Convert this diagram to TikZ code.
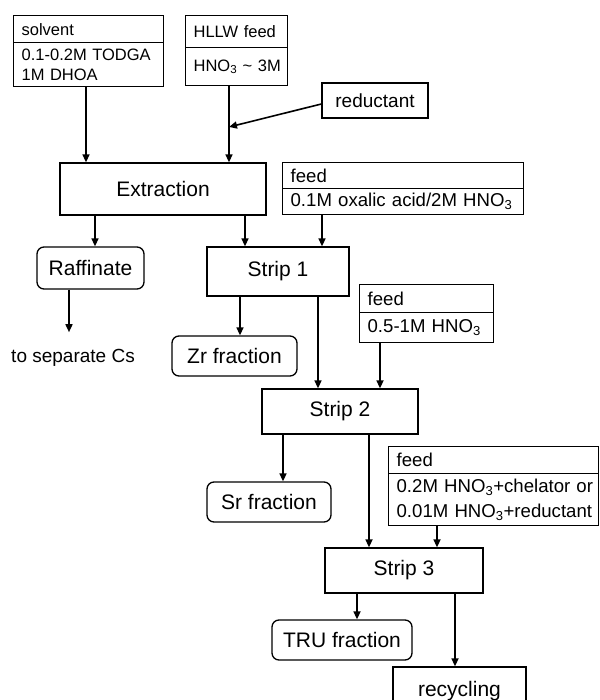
\documentclass[tikz,border=0pt]{standalone}
\usepackage{fontspec}
\setmainfont{Liberation Sans}
\usetikzlibrary{arrows.meta}
\tikzstyle{unit}=[draw, line width=1.3pt, inner sep=0pt, font=\fontsize{21}{25}\selectfont]
\tikzstyle{fraction}=[unit, rounded corners=7pt]
\tikzstyle{feedbox}=[draw, line width=1.3pt, anchor=north west, inner xsep=8pt, inner ysep=0pt, align=left, font=\fontsize{18.6}{25}\selectfont]
\tikzstyle{inbox}=[feedbox, font=\fontsize{16.5}{20}\selectfont]
\tikzstyle{flow}=[line width=1.6pt, -{Triangle[length=8pt,width=7pt]}]

\begin{document}
\begin{tikzpicture}[x=1pt,y=-1pt]
	\useasboundingbox (0,0) rectangle (599,700);
	\clip (0,0) rectangle (599,700);
	\node[inbox, text width=134, minimum height=27] (solventhead) at (13,15) {solvent};
	\node[inbox, text width=134, minimum height=44] (solvent) at (13,42) {\mbox{0.1-0.2M TODGA}\\\mbox{1M DHOA}};
	\node[inbox, text width=86, minimum height=32] (hllwhead) at (185,15) {\mbox{HLLW feed}};
	\node[inbox, text width=86, minimum height=38] (hllw) at (185,47) {\mbox{HNO\textsubscript{3} \textasciitilde\ 3M}};
	\node[unit, font=\fontsize{19}{23}\selectfont, minimum width=106, minimum height=35] (reductant) at (375,100.5) {reductant};
	\node[unit, minimum width=206, minimum height=52] (extraction) at (163,189) {Extraction};
	\node[feedbox, text width=225, minimum height=26] (feedAhead) at (282,162) {feed};
	\node[feedbox, text width=225, minimum height=26] (feedA) at (282,188) {\mbox{0.1M oxalic acid/2M HNO\textsubscript{3}}};
	\node[fraction, minimum width=107, minimum height=42] (raffinate) at (90.5,268) {Raffinate};
	\node[unit, minimum width=142, minimum height=49] (strip1) at (278,271.5) {Strip 1};
	\node[font=\fontsize{19}{23}\selectfont, inner xsep=0pt, inner ysep=17pt] (tocs) at (73,358) {to separate Cs};
	\node[fraction, minimum width=125, minimum height=40] (zr) at (234.5,356) {Zr fraction};
	\node[feedbox, text width=118, minimum height=28] (feedBhead) at (359,284) {feed};
	\node[feedbox, text width=118, minimum height=30] (feedB) at (359,312) {\mbox{0.5-1M HNO\textsubscript{3}}};
	\node[unit, minimum width=156, minimum height=45] (strip2) at (340,411.5) {Strip 2};
	\node[fraction, minimum width=124, minimum height=40] (sr) at (269,502) {Sr fraction};
	\node[feedbox, text width=194, minimum height=27] (feedChead) at (388,446) {feed};
	\node[feedbox, text width=194, minimum height=52] (feedC) at (388,473) {\mbox{0.2M HNO\textsubscript{3}+chelator or}\\\mbox{0.01M HNO\textsubscript{3}+reductant}};
	\node[unit, minimum width=158, minimum height=45] (strip3) at (404,570.5) {Strip 3};
	\node[fraction, minimum width=140, minimum height=40] (tru) at (342,640) {TRU fraction};
	\node[unit, minimum width=133, minimum height=48] (recycling) at (459.5,691) {recycling};
	\coordinate (mix) at (229,127);
	\draw[flow] (solvent.south -| 86,0) -- (extraction.north -| 86,0);
	\draw[flow] (hllw.south -| 229,0) -- (extraction.north -| 229,0);
	\draw[flow] ([yshift=-3.5pt]reductant.west) -- (mix);
	\draw[flow] (extraction.south -| 95,0) -- (raffinate.north -| 95,0);
	\draw[flow] (extraction.south -| 245,0) -- (strip1.north -| 245,0);
	\draw[flow] (feedA.south -| 322,0) -- (strip1.north -| 322,0);
	\draw[flow] (raffinate.south -| 69,0) -- (tocs.north -| 69,0);
	\draw[flow] (strip1.south -| 240,0) -- (zr.north -| 240,0);
	\draw[flow] (strip1.south -| 318,0) -- (strip2.north -| 318,0);
	\draw[flow] (feedB.south -| 380,0) -- (strip2.north -| 380,0);
	\draw[flow] (strip2.south -| 283,0) -- (sr.north -| 283,0);
	\draw[flow] (strip2.south -| 369,0) -- (strip3.north -| 369,0);
	\draw[flow] (feedC.south -| 437,0) -- (strip3.north -| 437,0);
	\draw[flow] (strip3.south -| 357,0) -- (tru.north -| 357,0);
	\draw[flow] (strip3.south -| 455,0) -- (recycling.north -| 455,0);
\end{tikzpicture}
\end{document}
